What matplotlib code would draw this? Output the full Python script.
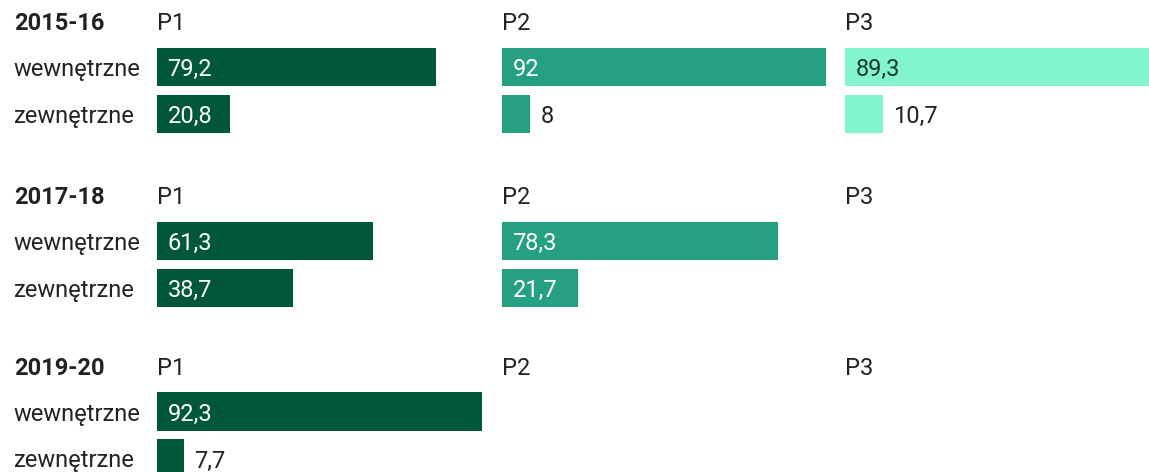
import matplotlib.pyplot as plt
import matplotlib.transforms as mtransforms
import numpy as np

plt.rcParams['font.family'] = ['Roboto', 'DejaVu Sans']

years = ["2015-16", "2017-18", "2019-20"]
panels = ["P1", "P2", "P3"]
categories = ["wewnętrzne", "zewnętrzne"]

# share per year, panel: [wewnętrzne, zewnętrzne]; None = no data
p1_wew = [79.2, 61.3, 92.3]
p1_zew = [20.8, 38.7, 7.7]
p2_wew = [92, 78.3, None]
p2_zew = [8, 21.7, None]
p3_wew = [89.3, None, None]
p3_zew = [10.7, None, None]

wew = [p1_wew, p2_wew, p3_wew]
zew = [p1_zew, p2_zew, p3_zew]

colors = ["#00573a", "#25a181", "#82f5cf"]
label_colors = ["white", "white", "#1a3a30"]
text_color = "#222222"
fs = 17

W, H = 1149, 472
fig = plt.figure(figsize=(W / 100, H / 100), dpi=100)

panel_left = [157, 502, 845]   # px
panel_width = 352              # px for 0..100
group_top = [43.5, 217.5, 388] # px, top of bar area
area_h = 94                    # px for two bars


def fmt(v):
    s = f"{v:.1f}".rstrip("0").rstrip(".")
    return s.replace(".", ",")


for g, year in enumerate(years):
    for p, panel in enumerate(panels):
        ax = fig.add_axes([panel_left[p] / W, 1 - (group_top[g] + area_h) / H,
                           panel_width / W, area_h / H])
        ax.set_xlim(0, 100)
        ax.set_ylim(1.5, -0.5)
        ax.axis("off")
        vals = [wew[p][g], zew[p][g]]
        ax.text(0, -0.97, panel, fontsize=fs, color=text_color,
                va="center_baseline", ha="left", clip_on=False)
        if p == 0:
            tr = mtransforms.blended_transform_factory(fig.transFigure, ax.transData)
            ax.text(14 / W, -0.97, year, transform=tr, fontsize=fs,
                    fontweight="bold", color=text_color, va="center_baseline", ha="left")
            for i, cat in enumerate(categories):
                ax.text(14 / W, i, cat, transform=tr, fontsize=fs,
                        color=text_color, va="center_baseline", ha="left")
        for i, v in enumerate(vals):
            if v is None:
                continue
            ax.barh(i, v, height=0.81, color=colors[p], clip_on=False)
            if v > 15:
                ax.annotate(fmt(v), (0, i), xytext=(7.5, 0), textcoords="offset points",
                            fontsize=fs, color=label_colors[p], va="center_baseline", ha="left")
            else:
                ax.annotate(fmt(v), (v, i), xytext=(7.5, 0), textcoords="offset points",
                            fontsize=fs, color=text_color, va="center_baseline", ha="left")

fig.savefig("out.png", dpi=100, facecolor="white")
